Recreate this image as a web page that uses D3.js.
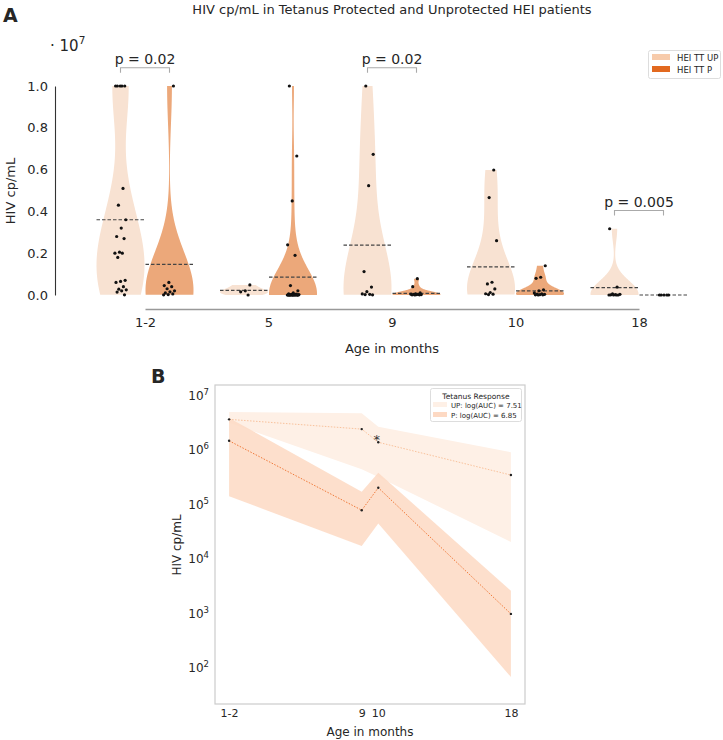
<!DOCTYPE html>
<html><head><meta charset="utf-8">
<script src="https://cdn.jsdelivr.net/npm/d3@7"></script>
<style>body{margin:0;background:#fff}svg{display:block;font-family:"DejaVu Sans",sans-serif}</style>
</head><body><svg id="c" width="723" height="740"></svg>
<script>
// ---------- Panel A data (values in units of 10^7 cp/mL) ----------
const groups = ["1-2", "5", "9", "10", "18"];
const seriesNames = ["HEI TT UP", "HEI TT P"];
const upValues = [
  [1, 1, 1, 1, 1, 0.51, 0.43, 0.36, 0.32, 0.28, 0.27, 0.205, 0.2, 0.2, 0.18, 0.07, 0.065, 0.06, 0.04, 0.028, 0.025, 0.02, 0.014, 0.001],
  [0.048, 0.02, 0.015, 0.0],
  [1.0, 0.673, 0.523, 0.112, 0.038, 0.016, 0.005, 0.003, 0.002, 0.001],
  [0.598, 0.466, 0.26, 0.061, 0.053, 0.029, 0.012, 0.006, 0.004, 0.002],
  [0.317, 0.038, 0.005, 0.003, 0.002, 0.001, 0.0, 0.0, 0.0, 0.0]
];
const pValues = [
  [1.0, 0.06, 0.045, 0.04, 0.03, 0.02, 0.015, 0.01, 0.005, 0.002, 0.001],
  [1.0, 0.665, 0.45, 0.24, 0.19, 0.045, 0.02, 0.01, 0.005, 0.004, 0.003, 0.002, 0.002, 0.001, 0.001, 0.001, 0.001, 0.001, 0.0, 0.0, 0.0, 0.0, 0.0, 0.0, 0.0, 0.0, 0.0, 0.0, 0.0, 0.0],
  [0.078, 0.04, 0.01, 0.006, 0.004, 0.003, 0.003, 0.002, 0.002, 0.001, 0.001, 0.0],
  [0.14, 0.085, 0.08, 0.025, 0.02, 0.01, 0.006, 0.004, 0.003, 0.002, 0.001, 0.001, 0.0],
  [0.0, 0.0, 0.0, 0.0, 0.0]
];
const upLine = [0.36, 0.022, 0.239, 0.135, 0.035];
const pLine = [0.147, 0.086, 0.008, 0.02, 0.0];
const yTicksA = [0, 0.2, 0.4, 0.6, 0.8, 1.0];
const sigGroups = ["1-2", "9", "18"];
const sigLabels = ["p = 0.02", "p = 0.02", "p = 0.005"];

// ---------- Panel B data ----------
const monthsB = [1, 9, 10, 18];
const monthLabelsB = ["1-2", "9", "10", "18"];
const upMean = [3.29e6, 2.18e6, 1.25e6, 3.13e5];
const upLow = [2.85e6, 3.98e5, 2.88e5, 1.86e4];
const upHigh = [4.5e6, 4.24e6, 2.41e6, 8.2e5];
const pMean = [1.33e6, 7.1e4, 1.83e5, 890];
const pLow = [1.28e5, 1.56e4, 4.06e4, 62];
const pHigh = [3.5e6, 1.55e5, 3.45e5, 2.36e3];
const yTicksB = [1e2, 1e3, 1e4, 1e5, 1e6, 1e7];
const legendBLabels = ["UP: log(AUC) = 7.51", "P: log(AUC) = 6.85"];

const txt = "#262626";
const svg = d3.select("#c");

// ================= Panel A =================
svg.append("text").attr("x", 3).attr("y", 22).attr("font-size", 19).attr("font-weight", "bold").attr("fill", txt).text("A");
svg.append("text").attr("x", 392).attr("y", 14).attr("text-anchor", "middle").attr("font-size", 13).attr("fill", txt)
  .text("HIV cp/mL in Tetanus Protected and Unprotected HEI patients");

const yA = d3.scaleLinear().domain([0, 1]).range([295, 86]);
const xA = d3.scalePoint().domain(groups).range([145, 639]);
const off = 24.5, halfW = 24;

const yAxA = svg.append("g").attr("transform", "translate(55,0)")
  .call(d3.axisLeft(yA).tickValues(yTicksA).tickFormat(d3.format(".1f")).tickSize(0).tickPadding(7));
yAxA.select(".domain").attr("stroke", "#333").attr("stroke-width", 1.1);
yAxA.selectAll("text").attr("font-size", 13).attr("fill", txt).attr("font-family", "DejaVu Sans");

const xAxA = svg.append("g").attr("transform", "translate(0,309)")
  .call(d3.axisBottom(xA).tickSize(0).tickPadding(9));
xAxA.select(".domain").attr("stroke", "#999").attr("stroke-width", 1.5);
xAxA.selectAll("text").attr("font-size", 13).attr("fill", txt).attr("font-family", "DejaVu Sans");

svg.append("text").attr("x", 392).attr("y", 353).attr("text-anchor", "middle").attr("font-size", 13).attr("fill", txt).text("Age in months");
svg.append("text").attr("transform", "translate(15,191) rotate(-90)").attr("text-anchor", "middle").attr("font-size", 13).attr("fill", txt).text("HIV cp/mL");
const mult = svg.append("text").attr("x", 50).attr("y", 51).attr("font-size", 15).attr("fill", txt);
mult.append("tspan").text("\u00b7 10");
mult.append("tspan").attr("dy", -7).attr("font-size", 10.5).text("7");

function kdeProfile(vals) {
  const n = vals.length;
  const mean = d3.mean(vals);
  const sd = Math.sqrt(d3.sum(vals, v => (v - mean) ** 2) / (n - 1));
  if (!(sd > 0)) return null;
  const bw = sd * Math.pow(n, -0.2);
  const lo = d3.min(vals), hi = d3.max(vals);
  const pts = d3.range(0, 151).map(i => lo + (hi - lo) * i / 150);
  const dens = pts.map(x => d3.sum(vals, v => Math.exp(-0.5 * ((x - v) / bw) ** 2)));
  const mx = d3.max(dens);
  return pts.map((x, i) => ({ v: x, w: halfW * dens[i] / mx }));
}

const violinCols = ["#f8e2d2", "#eca87a"];
const series = [upValues, pValues];
const lines = [upLine, pLine];
series.forEach((ser, s) => {
  ser.forEach((vals, g) => {
    const cx = xA(groups[g]) + (s === 0 ? -off : off);
    const prof = kdeProfile(vals);
    if (prof) {
      svg.append("path").datum(prof)
        .attr("d", d3.area().x0(d => cx - d.w).x1(d => cx + d.w).y(d => yA(d.v)).curve(d3.curveLinear))
        .attr("fill", violinCols[s]);
    }
  });
});
series.forEach((ser, s) => {
  ser.forEach((vals, g) => {
    const cx = xA(groups[g]) + (s === 0 ? -off : off);
    svg.append("line").attr("x1", cx - halfW).attr("x2", cx + halfW)
      .attr("y1", yA(lines[s][g])).attr("y2", yA(lines[s][g]))
      .attr("stroke", "#444").attr("stroke-width", 1.2).attr("stroke-dasharray", "3.5,2");
    vals.forEach((v, i) => {
      const jit = (((i + 1) * 0.618034 + g * 0.37 + s * 0.21) % 1 - 0.5) * 12;
      svg.append("circle").attr("cx", cx + jit).attr("cy", yA(v)).attr("r", 1.6).attr("fill", "#111");
    });
  });
});

// significance brackets
sigGroups.forEach((gname, k) => {
  const g = groups.indexOf(gname);
  const top = Math.max(d3.max(upValues[g]), d3.max(pValues[g])) + 0.087;
  const yb = yA(top), x1 = xA(gname) - off, x2 = xA(gname) + off;
  svg.append("path").attr("d", `M${x1},${yb + 5}V${yb}H${x2}V${yb + 5}`)
    .attr("fill", "none").attr("stroke", "#aaa").attr("stroke-width", 1.1);
  svg.append("text").attr("x", xA(gname)).attr("y", yb - 4).attr("text-anchor", "middle")
    .attr("font-size", 14).attr("fill", txt).text(sigLabels[k]);
});

// legend A
const legA = svg.append("g");
legA.append("rect").attr("x", 648.5).attr("y", 50.5).attr("width", 72).attr("height", 28).attr("rx", 2)
  .attr("fill", "#fff").attr("stroke", "#ddd");
const legACols = ["#f7cbab", "#e2691f"];
seriesNames.forEach((nm, i) => {
  legA.append("rect").attr("x", 652).attr("y", 54 + i * 12).attr("width", 18).attr("height", 6).attr("fill", legACols[i]);
  legA.append("text").attr("x", 677).attr("y", 60.5 + i * 12).attr("font-size", 8.5).attr("fill", txt).text(nm);
});

// ================= Panel B =================
svg.append("text").attr("x", 151).attr("y", 383).attr("font-size", 19).attr("font-weight", "bold").attr("fill", txt).text("B");
const L = 215, R = 525, T = 385, B = 704;
const xB = d3.scaleLinear().domain([0.15, 18.85]).range([L, R]);
const yB = d3.scaleLog().domain([Math.pow(10, 1.297), Math.pow(10, 7.147)]).range([B, T]);

const bandCols = ["#fef0e6", "#fdd9c3"];
const lineCols = ["#f9c29c", "#f07a3a"];
const bands = [[upLow, upHigh], [pLow, pHigh]];
const means = [upMean, pMean];
bands.forEach((bd, s) => {
  const pts = monthsB.map((m, i) => ({ m, lo: bd[0][i], hi: bd[1][i] }));
  svg.append("path").datum(pts)
    .attr("d", d3.area().x(d => xB(d.m)).y0(d => yB(d.lo)).y1(d => yB(d.hi)))
    .attr("fill", bandCols[s]).attr("fill-opacity", s === 0 ? 1 : 0.85);
});
means.forEach((mv, s) => {
  const pts = monthsB.map((m, i) => ({ m, v: mv[i] }));
  svg.append("path").datum(pts)
    .attr("d", d3.line().x(d => xB(d.m)).y(d => yB(d.v)))
    .attr("fill", "none").attr("stroke", lineCols[s]).attr("stroke-width", 1).attr("stroke-dasharray", "1.5,1.5");
  pts.forEach(d => svg.append("circle").attr("cx", xB(d.m)).attr("cy", yB(d.v)).attr("r", 1.2).attr("fill", "#222"));
});
svg.append("text").attr("x", xB(10) - 1.5).attr("y", yB(upMean[2]) + 2).attr("text-anchor", "middle")
  .attr("font-size", 13).attr("fill", "#333").text("*");

svg.append("rect").attr("x", L).attr("y", T).attr("width", R - L).attr("height", B - T)
  .attr("fill", "none").attr("stroke", "#ccc").attr("stroke-width", 1.2);

const yAxB = svg.append("g").attr("transform", `translate(${L},0)`)
  .call(d3.axisLeft(yB).tickValues(yTicksB).tickSize(0).tickPadding(6).tickFormat(() => ""));
yAxB.select(".domain").remove();
yAxB.selectAll(".tick text").each(function (d) {
  const t = d3.select(this).attr("font-size", 12).attr("fill", txt).attr("font-family", "DejaVu Sans").attr("dy", "0.5em");
  t.append("tspan").text("10");
  t.append("tspan").attr("dy", "-0.55em").attr("font-size", 8.5).text(Math.round(Math.log10(d)));
});
const xAxB = svg.append("g").attr("transform", `translate(0,${B})`)
  .call(d3.axisBottom(xB).tickValues(monthsB).tickSize(0).tickPadding(5).tickFormat((d, i) => monthLabelsB[i]));
xAxB.select(".domain").remove();
xAxB.selectAll("text").attr("font-size", 11).attr("fill", txt).attr("font-family", "DejaVu Sans");

svg.append("text").attr("x", 370).attr("y", 736).attr("text-anchor", "middle").attr("font-size", 12).attr("fill", txt).text("Age in months");
svg.append("text").attr("transform", "translate(181,545) rotate(-90)").attr("text-anchor", "middle").attr("font-size", 12).attr("fill", txt).text("HIV cp/mL");

// legend B
const legB = svg.append("g");
legB.append("rect").attr("x", 430.5).attr("y", 388.5).attr("width", 91).attr("height", 33).attr("rx", 2)
  .attr("fill", "#fff").attr("fill-opacity", 0.85).attr("stroke", "#ddd");
legB.append("text").attr("x", 476).attr("y", 398.5).attr("text-anchor", "middle").attr("font-size", 7.5).attr("fill", txt).text("Tetanus Response");
legendBLabels.forEach((lb, i) => {
  legB.append("rect").attr("x", 433).attr("y", 402 + i * 10).attr("width", 14).attr("height", 5).attr("fill", bandCols[i]);
  legB.append("text").attr("x", 451).attr("y", 407.5 + i * 10).attr("font-size", 7).attr("fill", txt).text(lb);
});
</script></body></html>
